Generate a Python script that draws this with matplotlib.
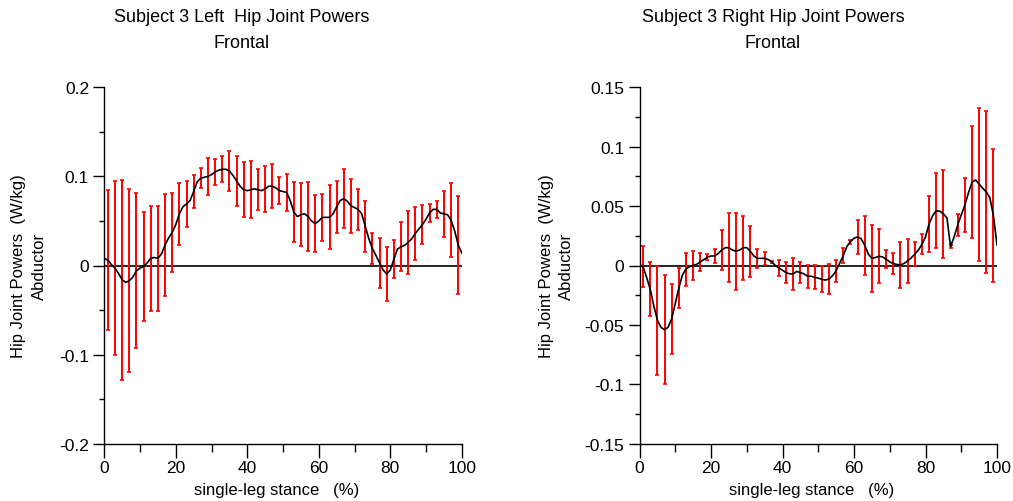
import numpy as np
import matplotlib
matplotlib.use("Agg")
import matplotlib.pyplot as plt
from matplotlib.ticker import MultipleLocator

plt.rcParams['font.family'] = ['Liberation Sans', 'DejaVu Sans']
plt.rcParams['font.size'] = 12

# stance percentage for the mean curve (0..100) and for the error bars (odd %)
stance = np.arange(0, 101)
bar_pct = np.arange(1, 100, 2)

# Left hip, frontal plane: mean power (W/kg)
left_mean = [
    0.008, 0.006, 0.001, -0.003, -0.009, -0.016, -0.019, -0.017, -0.013, -0.006,
    -0.003, -0.001, 0.003, 0.008, 0.009, 0.008, 0.013, 0.023, 0.031, 0.037,
    0.046, 0.058, 0.066, 0.069, 0.073, 0.083, 0.094, 0.098, 0.099, 0.100,
    0.102, 0.105, 0.107, 0.108, 0.108, 0.106, 0.101, 0.095, 0.089, 0.085,
    0.084, 0.085, 0.086, 0.085, 0.084, 0.086, 0.089, 0.089, 0.087, 0.084,
    0.083, 0.082, 0.073, 0.060, 0.055, 0.057, 0.058, 0.055, 0.050, 0.047,
    0.050, 0.054, 0.054, 0.054, 0.058, 0.066, 0.073, 0.075, 0.072, 0.067,
    0.065, 0.063, 0.058, 0.044, 0.030, 0.019, 0.011, 0.003, -0.005, -0.0095,
    -0.005, 0.007, 0.0185, 0.021, 0.0226, 0.026, 0.030, 0.036, 0.041, 0.046,
    0.052, 0.059, 0.063, 0.063, 0.059, 0.058, 0.057, 0.051, 0.039, 0.023,
    0.014,
]
left_sd = [
    0.0786, 0.098, 0.112, 0.103, 0.087, 0.061, 0.059, 0.059, 0.057, 0.044,
    0.035, 0.026, 0.019, 0.011, 0.021, 0.015, 0.0146, 0.0226, 0.0277, 0.031,
    0.032, 0.023, 0.026, 0.0245, 0.015, 0.021, 0.034, 0.0355, 0.0385, 0.0318,
    0.026, 0.036, 0.029, 0.033, 0.0305, 0.023, 0.0286, 0.017, 0.028, 0.030,
    0.0215, 0.0275, 0.035, 0.0296, 0.0215, 0.0099, 0.0092, 0.026, 0.042, 0.055,
]

# Right hip, frontal plane
right_mean = [
    0.001, -0.001, -0.010, -0.020, -0.034, -0.046, -0.052, -0.054, -0.052, -0.045,
    -0.032, -0.019, -0.008, -0.003, -0.001, 0.000, 0.001, 0.003, 0.005, 0.007,
    0.008, 0.008, 0.010, 0.013, 0.015, 0.015, 0.013, 0.012, 0.013, 0.015,
    0.015, 0.012, 0.008, 0.006, 0.006, 0.006, 0.005, 0.003, 0.000, -0.002,
    -0.004, -0.006, -0.007, -0.007, -0.005, -0.006, -0.007, -0.009, -0.009, -0.010,
    -0.0106, -0.0117, -0.0123, -0.0114, -0.0086, -0.0045, 0.002, 0.0084, 0.016, 0.020,
    0.023, 0.024, 0.0226, 0.017, 0.0097, 0.006, 0.0067, 0.0078, 0.0072, 0.0053,
    0.003, 0.0017, 0.0008, 0.0006, 0.0017, 0.0039, 0.0064, 0.0095, 0.013, 0.0178,
    0.024, 0.035, 0.042, 0.046, 0.0457, 0.0435, 0.040, 0.0160, 0.024, 0.034,
    0.0426, 0.0507, 0.061, 0.070, 0.072, 0.0685, 0.065, 0.062, 0.057, 0.042,
    0.0173,
]
right_sd = [
    0.0175, 0.0226, 0.046, 0.046, 0.0295, 0.017, 0.0139, 0.0123, 0.0079, 0.0026,
    0.0058, 0.0167, 0.0288, 0.0326, 0.027, 0.0214, 0.0081, 0.0052, 0.001, 0.0065,
    0.0089, 0.0134, 0.0086, 0.0097, 0.0102, 0.011, 0.0125, 0.0092, 0.006, 0.0017,
    0.0146, 0.0248, 0.0283, 0.0226, 0.0077, 0.0089, 0.0195, 0.0188, 0.01, 0.0084,
    0.0234, 0.0316, 0.0368, 0.0011, 0.0093, 0.0226, 0.0472, 0.0643, 0.0682, 0.0563,
]

W, H = 1013, 502
fig = plt.figure(figsize=(W / 100, H / 100), dpi=100)


def draw_panel(left_px, mean, sd, ylim, ymajor, yminor, yticklabels, title, title_x, xlabel_x, ylab_x):
    ax = fig.add_axes([left_px / W, 1 - 444.7 / H, 357.5 / W, 356.4 / H])
    mean = np.array(mean)
    ax.plot([0, 100], [0, 0], color='black', lw=1.2, zorder=2)
    ax.errorbar(bar_pct, mean[bar_pct], yerr=sd, fmt='none', ecolor='#ff0000',
                elinewidth=1.4, capsize=1.6, capthick=1.2, zorder=3)
    ax.plot(stance, mean, color='black', lw=1.2, zorder=4)

    ax.set_xlim(0, 100)
    ax.set_ylim(*ylim)
    ax.xaxis.set_minor_locator(MultipleLocator(10))
    ax.yaxis.set_minor_locator(MultipleLocator(yminor))
    ax.set_yticks(np.round(np.arange(ylim[0], ylim[1] + ymajor / 2, ymajor), 3))
    ax.set_yticklabels(yticklabels)
    ax.set_xticks([0, 20, 40, 60, 80, 100])
    ax.set_xticklabels(['0', '20', '40', '60', '80', '100'])

    for s in ['top', 'right']:
        ax.spines[s].set_visible(False)
    for s in ['left', 'bottom']:
        ax.spines[s].set_linewidth(1.0)
    ax.tick_params(axis='both', which='major', labelsize=12.5)
    ax.tick_params(axis='x', which='major', direction='out', length=9.8, width=1.0, pad=2)
    ax.tick_params(axis='x', which='minor', direction='out', length=5.5, width=1.0)
    ax.tick_params(axis='y', which='major', direction='out', length=8, width=1.0, pad=3)
    ax.tick_params(axis='y', which='minor', direction='out', length=3.8, width=1.0)

    fig.text(title_x / W, 1 - 18 / H, title, ha='center', va='center', fontsize=13)
    fig.text(title_x / W, 1 - 43 / H, 'Frontal', ha='center', va='center', fontsize=13)
    fig.text(xlabel_x / W, 1 - 491 / H, 'single-leg stance   (%)', ha='center', va='center')
    fig.text(ylab_x / W, 1 - 266 / H, 'Hip Joint Powers  (W/kg)', ha='center', va='center', rotation=90)
    fig.text((ylab_x + 20) / W, 1 - 266 / H, 'Abductor', ha='center', va='center', rotation=90)
    return ax


draw_panel(104.3, left_mean, left_sd, (-0.2, 0.2), 0.1, 0.05,
           ['-0.2', '-0.1', '0', '0.1', '0.2'],
           'Subject 3 Left  Hip Joint Powers', 242, 276.5, 19)
draw_panel(639.5, right_mean, right_sd, (-0.15, 0.15), 0.05, 0.025,
           ['-0.15', '-0.1', '-0.05', '0', '0.05', '0.1', '0.15'],
           'Subject 3 Right Hip Joint Powers', 773, 812, 546)

fig.savefig('out.png', dpi=100)
